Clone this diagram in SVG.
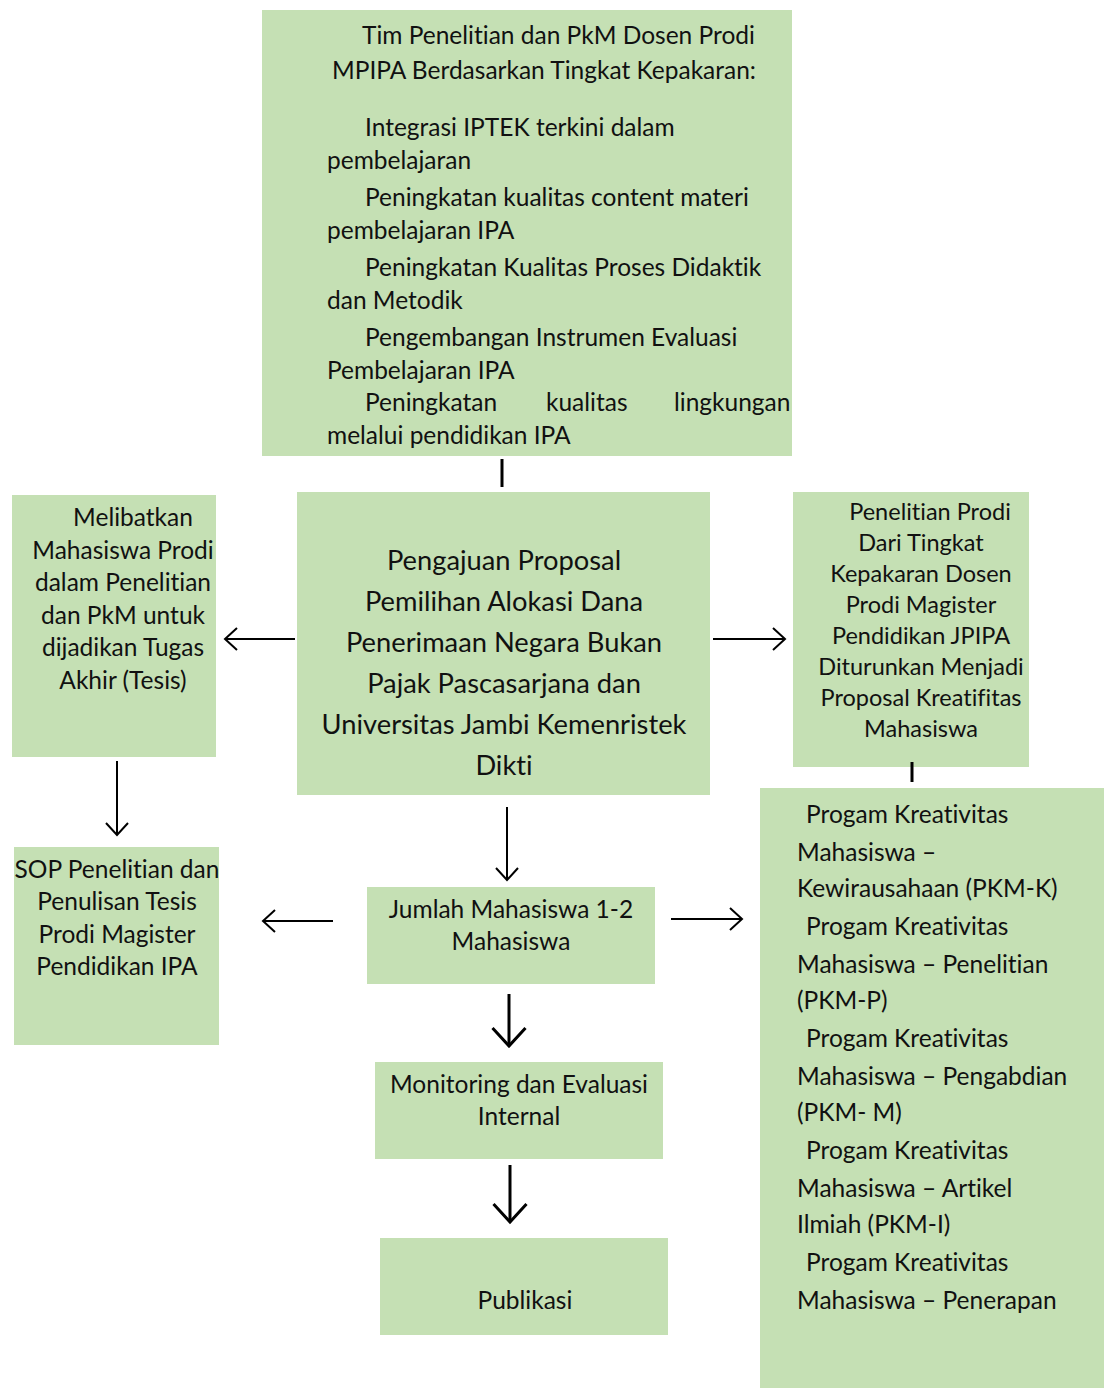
<svg xmlns="http://www.w3.org/2000/svg" width="1111" height="1389" viewBox="0 0 1111 1389">
<style>
.box{fill:#C5E0B4}
.t{font-family:Lato,"Open Sans","Liberation Sans",sans-serif;font-size:24.5px;fill:#111;font-variant-ligatures:none;font-feature-settings:"liga" 0}
.c{text-anchor:middle}
.big{font-size:27.3px}
.sm{font-size:23.5px}
.ln{stroke:#000;stroke-width:2;fill:none}
.thick{stroke-width:3}
</style>
<defs>
<marker id="arr" viewBox="0 0 8 12" markerWidth="8" markerHeight="12" refX="7" refY="6" orient="auto">
<path d="M1,0.5 L7,6 L1,11.5" fill="none" stroke="#000" stroke-width="1"/>
</marker>
</defs>
<rect width="1111" height="1389" fill="#fff"/>
<g id="top">
<rect class="box" x="262" y="10" width="530" height="446"/>
<text class="t" x="362" y="44">Tim Penelitian dan PkM Dosen Prodi</text>
<text class="t" x="332" y="79">MPIPA Berdasarkan Tingkat Kepakaran:</text>
<text class="t" x="365" y="136">Integrasi IPTEK terkini dalam</text>
<text class="t" x="327" y="169">pembelajaran</text>
<text class="t" x="365" y="206">Peningkatan kualitas content materi</text>
<text class="t" x="327" y="239">pembelajaran IPA</text>
<text class="t" x="365" y="276">Peningkatan Kualitas Proses Didaktik</text>
<text class="t" x="327" y="309">dan Metodik</text>
<text class="t" x="365" y="346">Pengembangan Instrumen Evaluasi</text>
<text class="t" x="327" y="379">Pembelajaran IPA</text>
<text class="t" y="411"><tspan x="365">Peningkatan</tspan><tspan x="546">kualitas</tspan><tspan x="674">lingkungan</tspan></text>
<text class="t" x="327" y="444">melalui pendidikan IPA</text>
</g>
<g id="center">
<rect class="box" x="297" y="492" width="413" height="303"/>
<text class="t c big" x="504" y="570">Pengajuan Proposal</text>
<text class="t c big" x="504" y="611">Pemilihan Alokasi Dana</text>
<text class="t c big" x="504" y="652">Penerimaan Negara Bukan</text>
<text class="t c big" x="504" y="693">Pajak Pascasarjana dan</text>
<text class="t c big" x="504" y="734">Universitas Jambi Kemenristek</text>
<text class="t c big" x="504" y="775">Dikti</text>
</g>
<g id="left">
<rect class="box" x="12" y="495" width="204" height="262"/>
<text class="t c" x="133" y="526">Melibatkan</text>
<text class="t c" x="123" y="559">Mahasiswa Prodi</text>
<text class="t c" x="123" y="591">dalam Penelitian</text>
<text class="t c" x="123" y="624">dan PkM untuk</text>
<text class="t c" x="123" y="656">dijadikan Tugas</text>
<text class="t c" x="123" y="689">Akhir (Tesis)</text>
</g>
<g id="rightupper">
<rect class="box" x="793" y="492" width="236" height="275"/>
<text class="t c sm" x="930" y="520">Penelitian Prodi</text>
<text class="t c sm" x="921" y="551">Dari Tingkat</text>
<text class="t c sm" x="921" y="582">Kepakaran Dosen</text>
<text class="t c sm" x="921" y="613">Prodi Magister</text>
<text class="t c sm" x="921" y="644">Pendidikan JPIPA</text>
<text class="t c sm" x="921" y="675">Diturunkan Menjadi</text>
<text class="t c sm" x="921" y="706">Proposal Kreatifitas</text>
<text class="t c sm" x="921" y="737">Mahasiswa</text>
</g>
<g id="sop">
<rect class="box" x="14" y="847" width="205" height="198"/>
<text class="t c" x="117" y="878">SOP Penelitian dan</text>
<text class="t c" x="117" y="910">Penulisan Tesis</text>
<text class="t c" x="117" y="943">Prodi Magister</text>
<text class="t c" x="117" y="975">Pendidikan IPA</text>
</g>
<g id="jumlah">
<rect class="box" x="367" y="887" width="288" height="97"/>
<text class="t c" x="511" y="918">Jumlah Mahasiswa 1-2</text>
<text class="t c" x="511" y="950">Mahasiswa</text>
</g>
<g id="monev">
<rect class="box" x="375" y="1062" width="288" height="97"/>
<text class="t c" x="519" y="1093">Monitoring dan Evaluasi</text>
<text class="t c" x="519" y="1125">Internal</text>
</g>
<g id="publikasi">
<rect class="box" x="380" y="1238" width="288" height="97"/>
<text class="t c" x="525" y="1309">Publikasi</text>
</g>
<g id="pkm">
<rect class="box" x="760" y="788" width="344" height="600"/>
<text class="t" x="806" y="823">Progam Kreativitas</text>
<text class="t" x="797" y="861">Mahasiswa –</text>
<text class="t" x="797" y="897">Kewirausahaan (PKM-K)</text>
<text class="t" x="806" y="935">Progam Kreativitas</text>
<text class="t" x="797" y="973">Mahasiswa – Penelitian</text>
<text class="t" x="797" y="1009">(PKM-P)</text>
<text class="t" x="806" y="1047">Progam Kreativitas</text>
<text class="t" x="797" y="1085">Mahasiswa – Pengabdian</text>
<text class="t" x="797" y="1121">(PKM- M)</text>
<text class="t" x="806" y="1159">Progam Kreativitas</text>
<text class="t" x="797" y="1197">Mahasiswa – Artikel</text>
<text class="t" x="797" y="1233">Ilmiah (PKM-I)</text>
<text class="t" x="806" y="1271">Progam Kreativitas</text>
<text class="t" x="797" y="1309">Mahasiswa – Penerapan</text>
</g>
<g id="connectors">
<line class="ln thick" x1="502" y1="459" x2="502" y2="487"/>
<line class="ln" x1="295" y1="639" x2="225" y2="639" marker-end="url(#arr)"/>
<line class="ln" x1="713" y1="639" x2="785" y2="639" marker-end="url(#arr)"/>
<line class="ln" x1="117" y1="761" x2="117" y2="835" marker-end="url(#arr)"/>
<line class="ln thick" x1="912" y1="762" x2="912" y2="782"/>
<line class="ln" x1="507" y1="807" x2="507" y2="880" marker-end="url(#arr)"/>
<line class="ln" x1="333" y1="921" x2="263" y2="921" marker-end="url(#arr)"/>
<line class="ln" x1="671" y1="919" x2="742" y2="919" marker-end="url(#arr)"/>
<line class="ln thick" x1="509" y1="994" x2="509" y2="1046" marker-end="url(#arr)"/>
<line class="ln thick" x1="510" y1="1165" x2="510" y2="1222" marker-end="url(#arr)"/>
</g>
</svg>
